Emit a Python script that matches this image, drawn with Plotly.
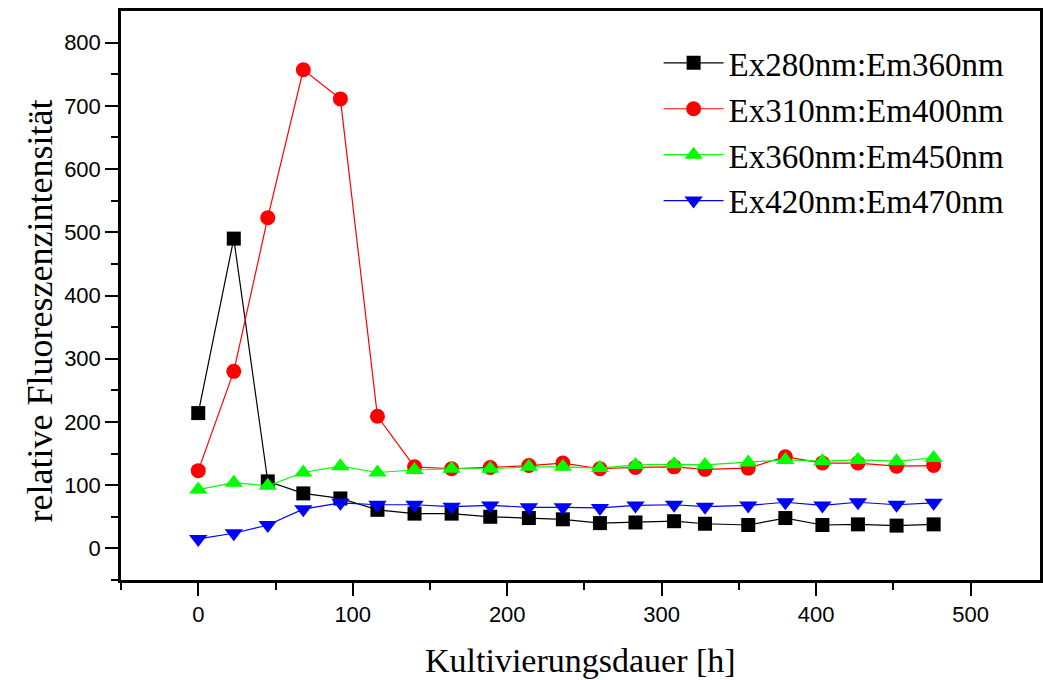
import plotly.graph_objects as go

# Kultivierungsdauer in Stunden
hours = [0, 23, 45, 68, 92, 116, 140, 164, 189, 214, 236, 260, 283, 308, 328, 356, 380, 404, 427, 452, 476]

ex280_em360 = [214, 490, 106, 87, 79, 61, 55, 55, 50, 48, 46, 40, 41, 43, 39, 37, 48, 37, 38, 36, 38]
ex310_em400 = [123, 280, 523, 757, 711, 209, 129, 126, 128, 131, 135, 126, 128, 129, 125, 127, 145, 135, 135, 130, 131]
ex360_em450 = [93, 104, 99, 120, 130, 120, 124, 126, 126, 129, 129, 127, 132, 133, 132, 136, 140, 138, 140, 138, 143]
ex420_em470 = [15, 24, 37, 62, 72, 69, 69, 66, 68, 65, 65, 64, 68, 69, 66, 68, 73, 68, 73, 69, 72]

series_names = ["Ex280nm:Em360nm", "Ex310nm:Em400nm", "Ex360nm:Em450nm", "Ex420nm:Em470nm"]
series_values = [ex280_em360, ex310_em400, ex360_em450, ex420_em470]
colors = ["#000000", "#ff0000", "#00ff00", "#0000ff"]
symbols = ["square", "circle", "triangle-up", "triangle-down"]
sizes = [14, 15, 16, 16]

fig = go.Figure()
for name, vals, col, sym, sz in zip(series_names, series_values, colors, symbols, sizes):
    fig.add_trace(go.Scatter(
        x=hours, y=vals, name=name, mode="lines+markers",
        line=dict(color=col, width=1.2),
        marker=dict(color=col, symbol=sym, size=sz, line=dict(width=0)),
    ))

tick_font = dict(family="Liberation Sans, Arial, sans-serif", size=22, color="black")
serif = "Liberation Serif, Times New Roman, serif"

fig.update_layout(
    width=1043, height=680,
    margin=dict(l=121, r=0, t=11, b=100),
    paper_bgcolor="white", plot_bgcolor="white",
    showlegend=True,
    legend=dict(
        x=0.585, y=0.958, xanchor="left", yanchor="top",
        font=dict(family=serif, size=33, color="black"),
        bgcolor="rgba(0,0,0,0)", tracegroupgap=0, itemwidth=60,
    ),
    hovermode=False,
    annotations=[
        dict(text="Kultivierungsdauer [h]", xref="paper", yref="paper",
             x=0.5, y=0, xanchor="center", yanchor="middle", yshift=-80,
             showarrow=False, font=dict(family=serif, size=34, color="black")),
        dict(text="relative Fluoreszenzintensität", xref="paper", yref="paper",
             x=0, y=0.472, xanchor="center", yanchor="middle", xshift=-81,
             textangle=-90, showarrow=False, font=dict(family=serif, size=36, color="black")),
    ],
)

fig.update_xaxes(
    range=[-50, -50 + 922 / 1.55],
    tickmode="array", tickvals=[0, 100, 200, 300, 400, 500],
    ticks="outside", ticklen=13, tickwidth=2, tickcolor="black",
    minor=dict(tickvals=[-50, 50, 150, 250, 350, 450], ticks="outside", ticklen=7, tickwidth=2, tickcolor="black"),
    showline=True, linecolor="black", linewidth=2.5, mirror=True,
    showgrid=False, zeroline=False,
    tickfont=tick_font,
)
fig.update_yaxes(
    range=[-50, 850],
    tickmode="array", tickvals=[0, 100, 200, 300, 400, 500, 600, 700, 800],
    ticks="outside", ticklen=13, tickwidth=2, tickcolor="black",
    minor=dict(tickvals=[-50, 50, 150, 250, 350, 450, 550, 650, 750], ticks="outside", ticklen=7, tickwidth=2, tickcolor="black"),
    showline=True, linecolor="black", linewidth=2.5, mirror=True,
    showgrid=False, zeroline=False,
    tickfont=tick_font,
)

fig.write_html("out.html", config={"displayModeBar": False})
